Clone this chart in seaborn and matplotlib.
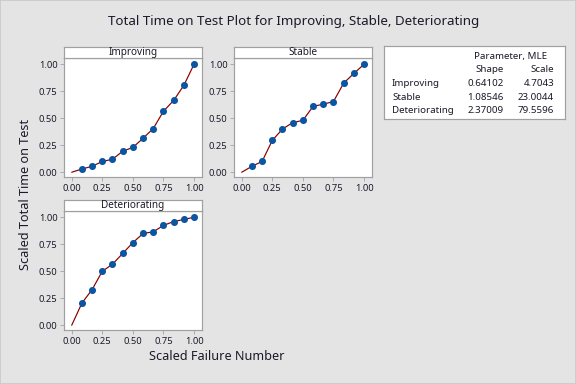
import matplotlib
matplotlib.use("Agg")
import matplotlib.pyplot as plt
import seaborn as sns
import pandas as pd
import numpy as np
from matplotlib.patches import Rectangle

sns.set_style("white")
plt.rcParams['font.family'] = ['Noto Sans', 'DejaVu Sans']

# ---- data ----
n_fail = 12
failure_idx = list(range(0, n_fail + 1))
improving = [0.0, 0.03, 0.055, 0.10, 0.12, 0.195, 0.23, 0.315, 0.405, 0.565, 0.665, 0.805, 1.0]
stable = [0.0, 0.055, 0.10, 0.295, 0.40, 0.46, 0.48, 0.61, 0.63, 0.655, 0.825, 0.915, 1.0]
deteriorating = [0.0, 0.205, 0.33, 0.50, 0.565, 0.665, 0.765, 0.85, 0.865, 0.925, 0.96, 0.98, 1.0]
groups = ["Improving", "Stable", "Deteriorating"]
shape = ["0.64102", "1.08546", "2.37009"]
scale = ["4.7043", "23.0044", "79.5596"]
ticks = [0.0, 0.25, 0.5, 0.75, 1.0]
tick_labels = ["0.00", "0.25", "0.50", "0.75", "1.00"]

series = {"Improving": improving, "Stable": stable, "Deteriorating": deteriorating}

W, H = 576, 384
bg = "#e4e4e4"
fig = plt.figure(figsize=(6, 4), dpi=96, facecolor=bg)
fig.patches.append(Rectangle((0, 0), 1, 1, transform=fig.transFigure,
                             fill=False, edgecolor="#c8c8c8", lw=1.2))

text_col = "#1a1a2a"
edge_col = "#a0a0a0"

def px_axes(l, t, r, b):
    return fig.add_axes([l / W, 1 - b / H, (r - l) / W, (b - t) / H])

panels = {
    "Improving": (64, 58, 202, 177, 47),
    "Stable": (234, 58, 372, 177, 47),
    "Deteriorating": (64, 211, 202, 330, 200),
}

for g in groups:
    l, t, r, b, st = panels[g]
    ax = px_axes(l, t, r, b)
    ax.set_facecolor("white")
    df = pd.DataFrame({"x": np.array(failure_idx) / n_fail, "y": series[g]})
    sns.lineplot(data=df, x="x", y="y", ax=ax, color="#8b0000", lw=0.9)
    sns.scatterplot(data=df.iloc[1:], x="x", y="y", ax=ax, color="#0a56a3",
                    s=28, edgecolor="#0a56a3", linewidth=0, zorder=3)
    ax.set_xlim(-0.063, 1.065)
    ax.set_ylim(-0.044, 1.058)
    ax.set_xticks(ticks)
    ax.set_xticklabels(tick_labels)
    ax.set_yticks(ticks)
    ax.set_yticklabels(tick_labels)
    ax.tick_params(labelsize=7, colors=text_col, length=3, width=0.6,
                   direction="out", bottom=True, left=True, pad=2)
    ax.tick_params(axis="both", color=edge_col)
    ax.set_xlabel("")
    ax.set_ylabel("")
    for s in ax.spines.values():
        s.set_color(edge_col)
        s.set_linewidth(0.9)
    # strip header
    sax = px_axes(l, st, r, t)
    sax.set_facecolor("white")
    sax.set_xticks([])
    sax.set_yticks([])
    for s in sax.spines.values():
        s.set_color(edge_col)
        s.set_linewidth(0.9)
    sax.text(0.5, 0.5, g, ha="center", va="center", fontsize=7.5, color=text_col,
             transform=sax.transAxes)

# parameter table
tax = px_axes(384, 46, 565, 119)
tax.set_facecolor("white")
tax.set_xticks([])
tax.set_yticks([])
for s in tax.spines.values():
    s.set_color(edge_col)
    s.set_linewidth(0.9)

def tx(xp, yp, s, ha="left"):
    fig.text(xp / W, 1 - yp / H, s, ha=ha, va="center", fontsize=7.3, color=text_col)

tx(511, 56, "Parameter, MLE", ha="center")
tx(504, 70, "Shape", ha="right")
tx(554, 70, "Scale", ha="right")
for i, g in enumerate(groups):
    yp = 83.5 + i * 13.7
    tx(392, yp, g)
    tx(504, yp, shape[i], ha="right")
    tx(554, yp, scale[i], ha="right")

fig.text(294 / W, 1 - 21 / H, "Total Time on Test Plot for Improving, Stable, Deteriorating",
         ha="center", va="center", fontsize=10, color=text_col)
fig.text(217 / W, 1 - 357 / H, "Scaled Failure Number", ha="center", va="center",
         fontsize=9.5, color=text_col)
fig.text(26 / W, 1 - 194 / H, "Scaled Total Time on Test", ha="center", va="center",
         fontsize=9.5, color=text_col, rotation=90)

fig.savefig("out.png", dpi=96, facecolor=bg)
